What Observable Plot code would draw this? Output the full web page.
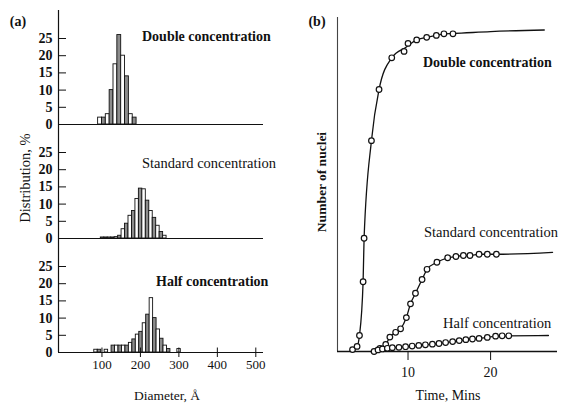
<!DOCTYPE html>
<html><head><meta charset="utf-8">
<script src="https://cdn.jsdelivr.net/npm/d3@7"></script>
<script src="https://cdn.jsdelivr.net/npm/@observablehq/plot@0.6"></script>
<style>
body{margin:0;background:#fff;}
#wrap{position:relative;width:562px;height:403px;overflow:hidden;font-family:"Liberation Serif","Times New Roman",serif;color:#111;background:#fff;}
#wrap svg{position:absolute;top:0;}
.lbl{position:absolute;white-space:nowrap;line-height:1;}
</style></head><body><div id="wrap"></div>
<script>
// ---------- Panel (a): size distributions ----------
const panels = ["Double concentration", "Standard concentration", "Half concentration"];
const diamTicks = [100, 200, 300, 400, 500];
const pctTicks = [0, 5, 10, 15, 20, 25];
const diamDomain = [-13, 520];
const pctDomain = [0, 33.14];

const doubleBinStart = [90, 100, 110, 120, 130, 140, 150, 160, 170, 180];
const doubleBinWidth = 10;
const doublePct = [2, 2, 3, 10, 17.5, 26, 20, 14, 3, 2];

const standardBinStart = [97, 106, 115, 124, 133, 142, 151, 160, 169, 178, 187, 196, 205, 214, 223, 232, 241, 250, 259];
const standardBinWidth = 9;
const standardPct = [0.3, 0.3, 0.3, 0.3, 0.4, 0.8, 2.7, 4.3, 6.6, 8, 11.5, 14.5, 14.3, 11, 8, 6, 3.7, 1.9, 0.8];

const halfBinStart = [80, 89, 107, 125, 134, 143, 152, 161, 170, 179, 188, 197, 206, 215, 224, 233, 242, 251, 260, 269, 296];
const halfBinWidth = 9;
const halfPct = [0.8, 0.8, 0.8, 2, 2, 2, 2, 2, 2.8, 3.8, 5.2, 6, 8.5, 11, 15.8, 10, 6.7, 4, 2, 1, 1];

// ---------- Panel (b): number of nuclei vs time ----------
const timeTicks = [10, 20];
const timeDomain = [1.46, 28.1];
const nucleiDomain = [0, 104.4];

const doubleT = [3.28, 3.83, 4.12, 4.56, 4.68, 5.57, 6.49, 8.03, 9.52, 10.0, 11.05, 12.26, 13.43, 14.35, 15.44];
const doubleN = [0.6, 1.6, 5, 21.8, 35.4, 65.9, 81.9, 91.8, 93.8, 96.3, 97.4, 98.2, 98.8, 99.3, 99.3];
const doubleLineT = [3.0, 3.28, 3.83, 4.12, 4.56, 4.68, 5.57, 6.49, 8.03, 9.8, 11.05, 12.26, 13.43, 14.35, 15.44, 20, 26.5];
const doubleLineN = [0.2, 0.6, 1.6, 5, 21.8, 35.4, 65.9, 81.9, 91.8, 95.2, 97.4, 98.2, 98.8, 99.3, 99.4, 100.0, 100.5];

const standardT = [6.6, 7.3, 7.8, 8.5, 9.1, 9.8, 10.3, 10.9, 11.7, 12.3, 13.5, 14.8, 15.8, 16.7, 17.5, 18.6, 19.6, 20.7];
const standardN = [1.0, 2.2, 4.5, 6.0, 7.1, 10.6, 14.9, 18.2, 22.5, 25.7, 27.9, 29.3, 29.7, 30.0, 30.0, 30.4, 30.4, 30.4];
const standardLineT = [6.0, 6.6, 7.3, 7.8, 8.5, 9.1, 9.8, 10.3, 10.9, 11.7, 12.3, 13.5, 14.8, 15.8, 16.7, 17.5, 18.6, 19.6, 20.7, 27.5];
const standardLineN = [0.2, 1.0, 2.2, 4.5, 6.0, 7.1, 10.6, 14.9, 18.2, 22.5, 25.7, 27.9, 29.3, 29.7, 30.0, 30.0, 30.4, 30.4, 30.4, 31.0];

const halfT = [5.89, 6.37, 6.9, 7.5, 8.1, 8.9, 9.7, 10.5, 11.3, 12.1, 12.95, 13.75, 14.55, 15.4, 16.2, 17.0, 17.8, 18.6, 19.6, 20.6, 21.4, 22.2];
const halfN = [0, 0.5, 0.8, 1.0, 1.2, 1.3, 1.5, 1.7, 1.9, 2.1, 2.3, 2.5, 2.8, 3.1, 3.4, 3.7, 3.9, 4.1, 4.4, 4.8, 4.9, 4.9];
const halfLineT = [5.5, 5.89, 6.37, 6.9, 7.5, 8.1, 8.9, 9.7, 10.5, 11.3, 12.1, 12.95, 13.75, 14.55, 15.4, 16.2, 17.0, 17.8, 18.6, 19.6, 20.6, 21.4, 22.2, 27.0];
const halfLineN = [0, 0, 0.5, 0.8, 1.0, 1.2, 1.3, 1.5, 1.7, 1.9, 2.1, 2.3, 2.5, 2.8, 3.1, 3.4, 3.7, 3.9, 4.1, 4.4, 4.8, 4.9, 4.9, 5.0];

// ---------- build tables ----------
function binsOf(panel, starts, width, pcts) {
  return starts.map((s, i) => ({panel, x1: s, x2: s + width, pct: pcts[i], shade: i % 2}));
}
const bars = [
  ...binsOf(panels[0], doubleBinStart, doubleBinWidth, doublePct),
  ...binsOf(panels[1], standardBinStart, standardBinWidth, standardPct),
  ...binsOf(panels[2], halfBinStart, halfBinWidth, halfPct)
];
const upTicks = diamTicks.map(v => ({x: v, panel: panels[2]}));

function series(name, T, N) { return T.map((t, i) => ({series: name, t, n: N[i]})); }
const points = [
  ...series("Double", doubleT, doubleN),
  ...series("Standard", standardT, standardN),
  ...series("Half", halfT, halfN)
];
const lines = [
  ...series("Double", doubleLineT, doubleLineN),
  ...series("Standard", standardLineT, standardLineN),
  ...series("Half", halfLineT, halfLineN)
];

const ink = "#111";
const font = "'Liberation Serif','Times New Roman',serif";

const plotA = Plot.plot({
  width: 290, height: 403,
  marginLeft: 58, marginRight: 27, marginTop: 10, marginBottom: 51,
  x: {domain: diamDomain},
  y: {domain: pctDomain},
  fy: {domain: panels, padding: 0, axis: null},
  style: {fontFamily: font, color: ink, background: "transparent"},
  marks: [
    Plot.rect(bars, {x1: "x1", x2: "x2", y1: 0, y2: "pct", fy: "panel",
      fill: d => d.shade ? "#8c8c8c" : "#ffffff", stroke: ink, strokeWidth: 0.9}),
    Plot.ruleY([0], {stroke: ink, strokeWidth: 1.2}),
    Plot.ruleX([diamDomain[0]], {stroke: ink, strokeWidth: 1.2}),
    Plot.ruleX(upTicks, {x: "x", fy: "panel", y1: 0, y2: 1.3, stroke: ink, strokeWidth: 1}),
    Plot.axisY({ticks: pctTicks, tickSize: -8, tickPadding: 14, label: null, fontSize: 14, fontWeight: 600, stroke: ink}),
    Plot.axisX({ticks: diamTicks, tickSize: 5, tickPadding: 2, label: null, fontSize: 13})
  ]
});
plotA.style.left = "0px";

const plotB = Plot.plot({
  width: 272, height: 403,
  marginLeft: 47, marginRight: 5, marginTop: 17, marginBottom: 52,
  x: {domain: timeDomain},
  y: {domain: nucleiDomain, axis: null},
  style: {fontFamily: font, color: ink, background: "transparent"},
  marks: [
    Plot.ruleX([timeDomain[0]], {stroke: "#444", strokeWidth: 1.1}),
    Plot.ruleY([0], {stroke: ink, strokeWidth: 1.6}),
    Plot.axisX({ticks: timeTicks, tickSize: 9, tickPadding: 7, label: null, fontSize: 14}),
    Plot.line(lines, {x: "t", y: "n", z: "series", curve: "monotone-x", stroke: ink, strokeWidth: 1.3}),
    Plot.dot(points, {x: "t", y: "n", r: 2.8, fill: "white", stroke: ink, strokeWidth: 1.2})
  ]
});
plotB.style.left = "290px";

const wrap = document.getElementById("wrap");
wrap.appendChild(plotA);
wrap.appendChild(plotB);

// ---------- text labels ----------
const labels = [
  {text: "(a)", x: 18, y: 22, size: 14, weight: "bold", anchor: "middle"},
  {text: "(b)", x: 317, y: 22, size: 14, weight: "bold", anchor: "middle"},
  {text: "Distribution, %", x: 25, y: 178, size: 14.5, weight: "normal", anchor: "middle", rotate: true},
  {text: "Diameter, Å", x: 167, y: 396, size: 13.5, weight: "normal", anchor: "middle"},
  {text: "Number of nuclei", x: 322, y: 182, size: 13.5, weight: "bold", anchor: "middle", rotate: true},
  {text: "Time, Mins", x: 448, y: 396, size: 14, weight: "normal", anchor: "middle"},
  {text: "Double concentration", x: 142, y: 37, size: 14, weight: "bold", anchor: "start"},
  {text: "Standard concentration", x: 142, y: 163, size: 14.5, weight: "normal", anchor: "start"},
  {text: "Half concentration", x: 156, y: 282, size: 14, weight: "bold", anchor: "start"},
  {text: "Double concentration", x: 423, y: 63, size: 14, weight: "bold", anchor: "start"},
  {text: "Standard concentration", x: 424, y: 232, size: 14.5, weight: "normal", anchor: "start"},
  {text: "Half concentration", x: 443, y: 323, size: 14.5, weight: "normal", anchor: "start"}
];
for (const l of labels) {
  const d = document.createElement("div");
  d.className = "lbl";
  d.textContent = l.text;
  d.style.left = l.x + "px";
  d.style.top = l.y + "px";
  d.style.fontSize = l.size + "px";
  d.style.fontWeight = l.weight;
  const tx = l.anchor === "middle" ? "-50%" : "0";
  d.style.transform = `translate(${tx},-50%)` + (l.rotate ? " rotate(-90deg)" : "");
  wrap.appendChild(d);
}
</script></body></html>
